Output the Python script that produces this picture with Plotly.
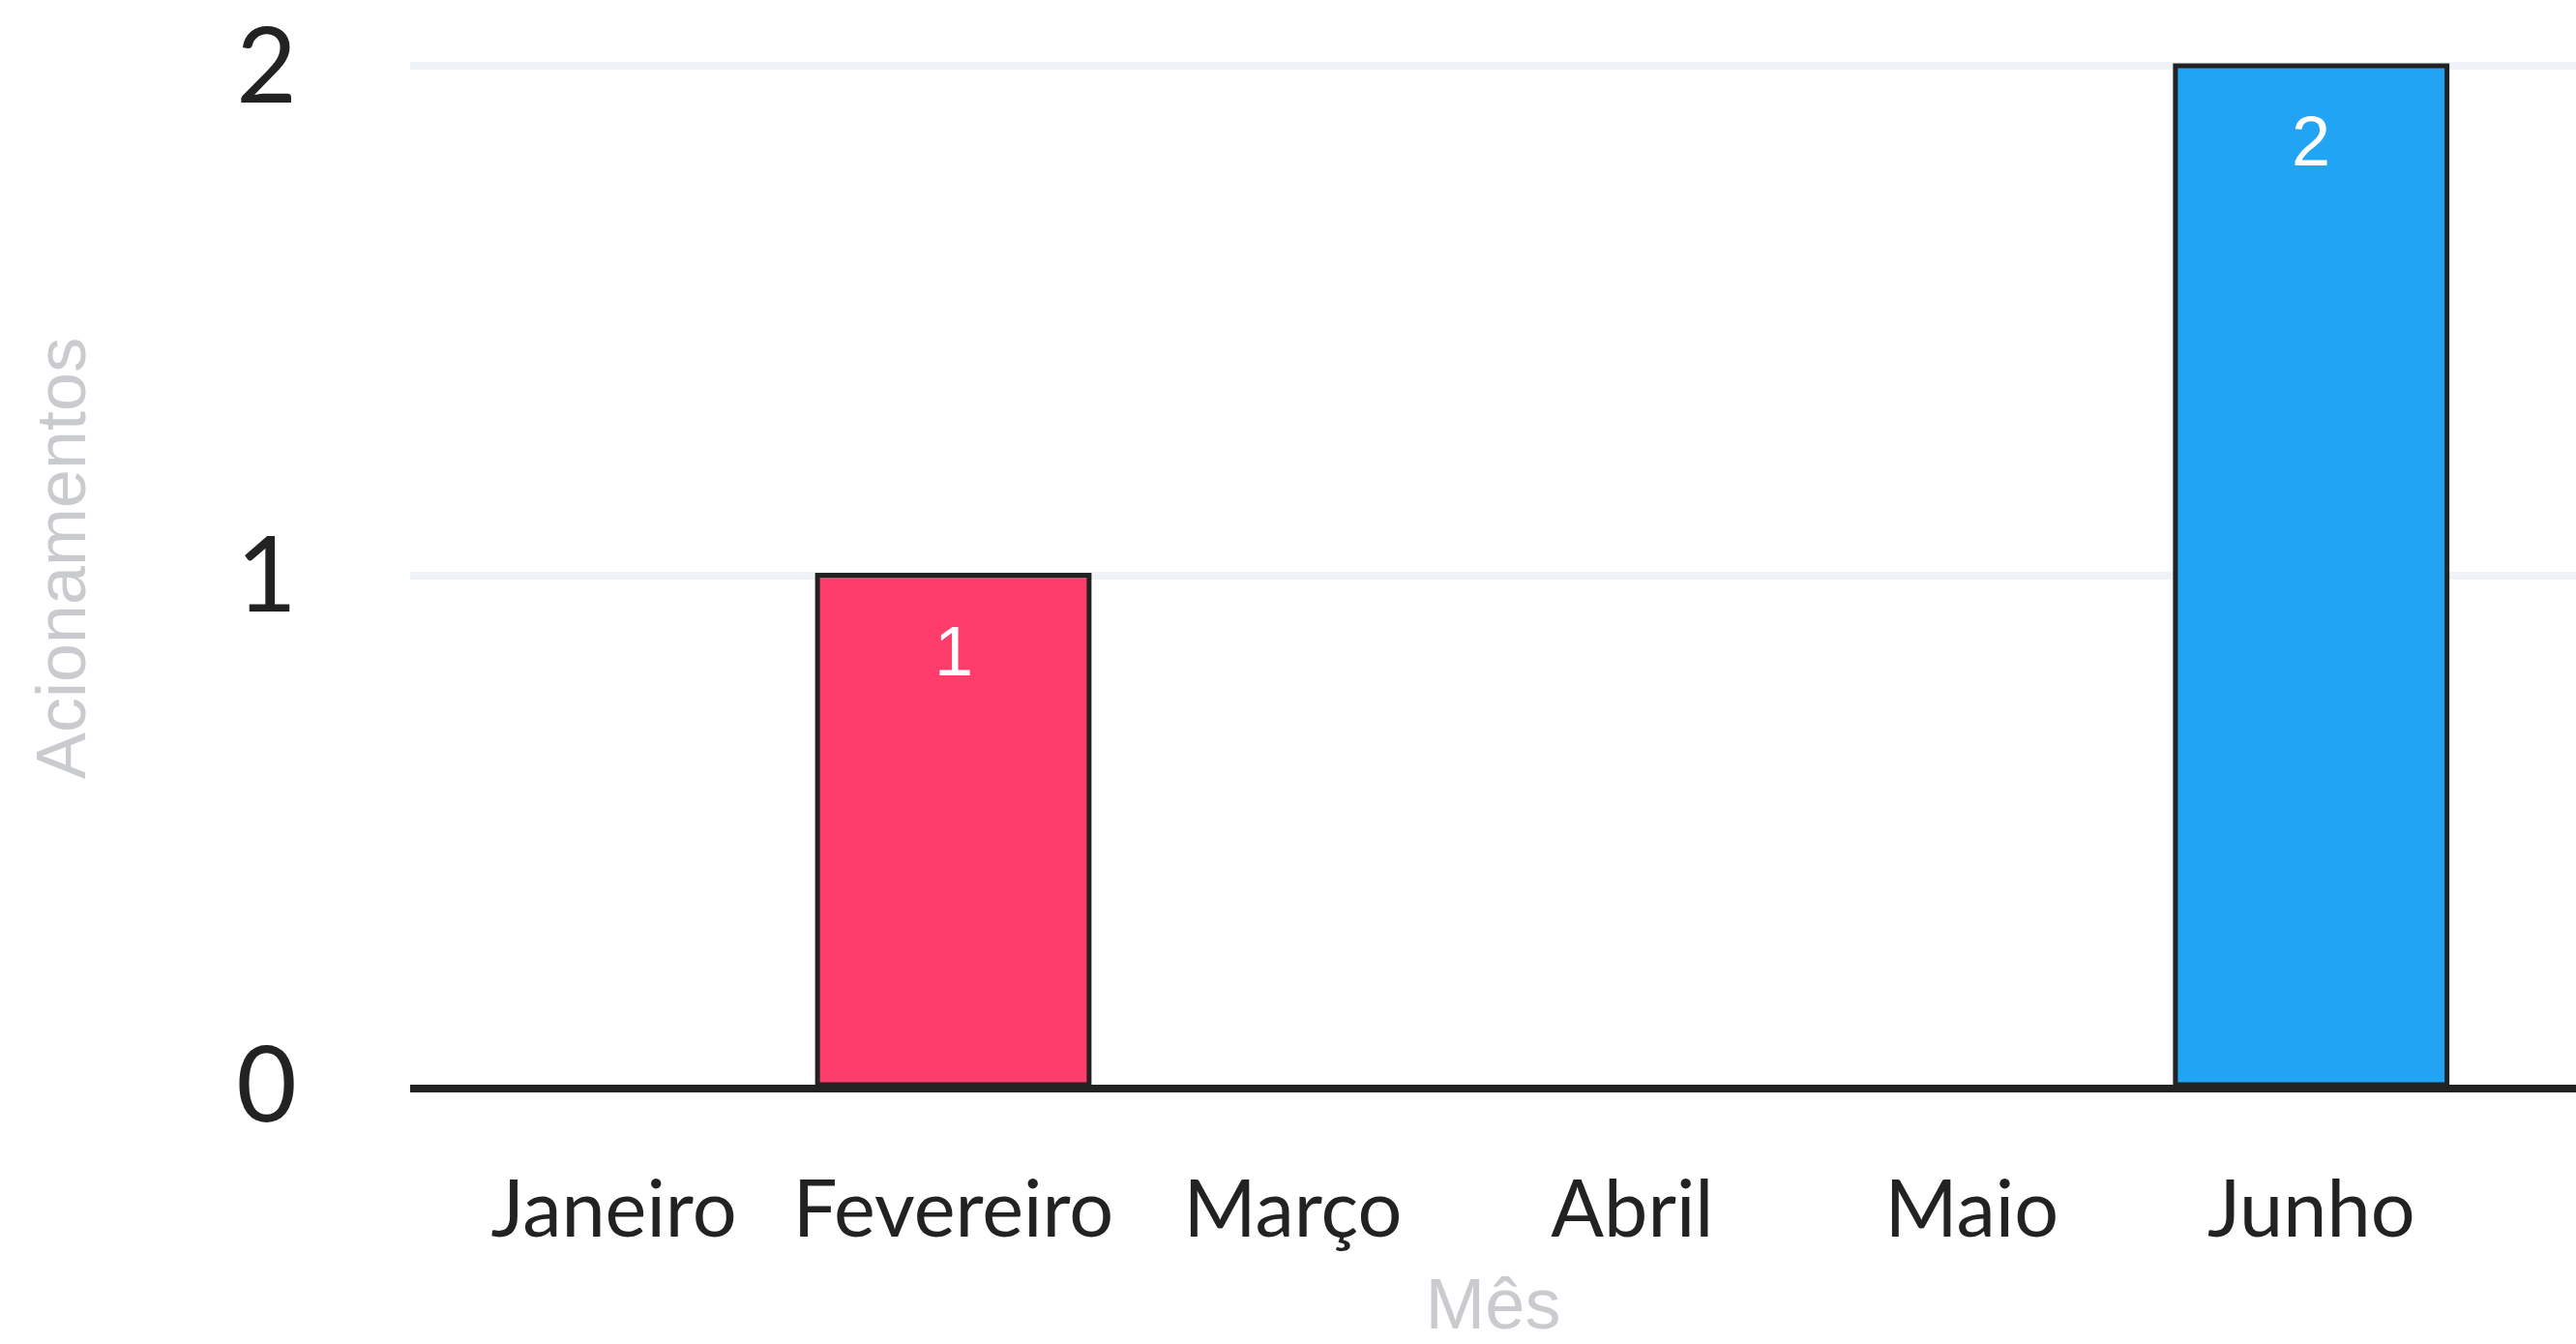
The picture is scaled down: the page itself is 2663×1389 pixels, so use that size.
import plotly.graph_objects as go

months = ["Janeiro", "Fevereiro", "Março", "Abril", "Maio", "Junho"]
acionamentos = [0, 1, 0, 0, 0, 2]
bar_colors = ["#ff3d6d", "#ff3d6d", "#20a4f3", "#ff3d6d", "#20a4f3", "#20a4f3"]
y_ticks = [0, 1, 2]

fig = go.Figure()
fig.add_trace(go.Bar(
    x=months,
    y=acionamentos,
    marker=dict(
        color=bar_colors,
        line=dict(color="#222222", width=[5 if v > 0 else 0 for v in acionamentos]),
    ),
    width=0.8,
    hoverinfo="x+y",
    showlegend=False,
))

for m, v in zip(months, acionamentos):
    if v > 0:
        fig.add_annotation(
            x=m, y=v, text=str(v), showarrow=False,
            xanchor="center", yanchor="middle", yshift=-78,
            font=dict(family="Liberation Sans", size=72, color="#ffffff"),
        )

fig.update_layout(
    width=2663, height=1389,
    margin=dict(l=424, r=0, t=25, b=248),
    plot_bgcolor="#ffffff", paper_bgcolor="#ffffff",
    xaxis=dict(
        categoryorder="array", categoryarray=months,
        range=[-0.6, 5.78],
        showgrid=False, zeroline=False,
        showline=True, linewidth=8, linecolor="#222222",
        ticks="", ticklabelstandoff=52,
        tickfont=dict(family="Lato", size=81, color="#222222"),
        title=dict(text="Mês", standoff=42,
                   font=dict(family="Liberation Sans", size=74, color="#c9cbcf")),
    ),
    yaxis=dict(
        range=[0, 2.0667],
        tickmode="array", tickvals=y_ticks, ticktext=[str(t) for t in y_ticks],
        showgrid=True, gridcolor="#eff2f7", gridwidth=8,
        zeroline=False, showline=False,
        ticks="", ticklabelstandoff=116, ticklabeloverflow="allow",
        tickfont=dict(family="Lato", size=108, color="#222222"),
        title=dict(text="Acionamentos", standoff=132,
                   font=dict(family="Liberation Sans", size=72, color="#c9cbcf")),
    ),
)

fig.write_html(
    "out.html",
    config={"displayModeBar": False},
    post_script="document.body.style.margin='0';document.body.style.overflow='hidden';",
)
